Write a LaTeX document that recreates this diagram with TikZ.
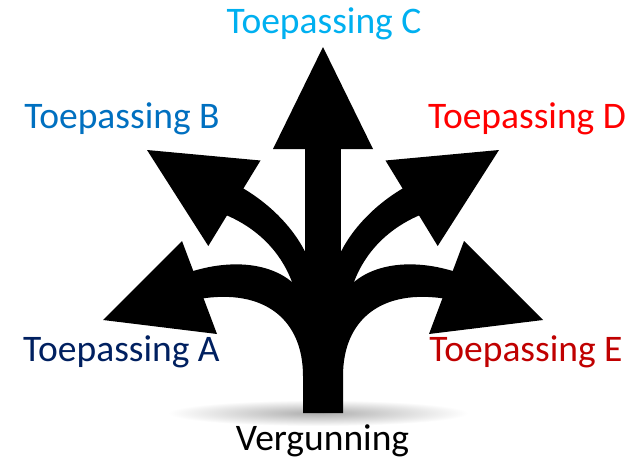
\documentclass[tikz,border=0pt]{standalone}
\usepackage{fontspec}
\setmainfont{Carlito}
\definecolor{tpA}{HTML}{002060}
\definecolor{tpB}{HTML}{0070C0}
\definecolor{tpC}{HTML}{00B0F0}
\definecolor{tpD}{HTML}{FF0000}
\definecolor{tpE}{HTML}{C00000}
\tikzset{
  branch/.style={fill=black},
  lbl/.style={anchor=base, inner sep=0pt, font=\fontsize{37.5}{40}\selectfont},
}
% one half of the branching sign (left side); mirrored for the right side
\newcommand\sidebranches{%
  % lower branch: head
  \fill[branch] (103,320) -- (182,241) -- (217,334) -- cycle;
  % lower branch: curved shaft joined with half of the trunk
  \fill[branch] (187,273) .. controls (228,259) and (268,262) .. (292,282)
    -- (323,282) -- (323,413) -- (303,413) -- (303,376)
    .. controls (303,320) and (265,288) .. (199,299) -- cycle;
  % upper branch: head
  \fill[branch] (147,150) -- (260.5,160.5) -- (208.3,246) -- cycle;
  % upper branch: curved shaft
  \fill[branch] (239,186) .. controls (268,202) and (295,228) .. (308,258)
    -- (312,285) -- (292,282)
    .. controls (280,250) and (255,226) .. (221,213) -- cycle;
}
\begin{document}
\begin{tikzpicture}[x=1pt, y=-1pt]
  \useasboundingbox (0,0) rectangle (627,458);
  \fill[white] (0,0) rectangle (627,458);
  % soft ground shadow under the trunk
  \shade[inner color=black!32, outer color=white] (318,413) ellipse [x radius=150, y radius=13];
  % left branches
  \sidebranches
  % right branches (mirror image about x = 323)
  \begin{scope}[xshift=646pt, xscale=-1]
    \sidebranches
  \end{scope}
  % straight middle arrow
  \fill[branch] (305,145) rectangle (341,413);
  \fill[branch] (323,47) -- (273,149) -- (373,149) -- cycle;
  % labels
  \node[lbl, text=tpC] (tpc) at (324,33.3) {Toepassing C};
  \node[lbl, text=tpB] (tpb) at (122,128.3) {Toepassing B};
  \node[lbl, text=tpD] (tpd) at (527,128.3) {Toepassing D};
  \node[lbl, text=tpA] (tpa) at (121.5,361.7) {Toepassing A};
  \node[lbl, text=tpE] (tpe) at (526,361.7) {Toepassing E};
  \node[lbl, text=black] (verg) at (322.5,450) {Vergunning};
\end{tikzpicture}
\end{document}
